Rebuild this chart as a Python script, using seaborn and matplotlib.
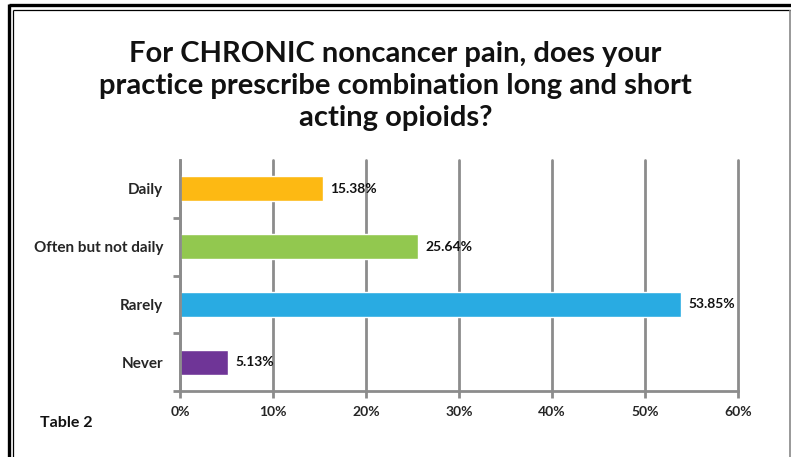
import matplotlib
matplotlib.use("Agg")
import matplotlib.pyplot as plt
from matplotlib.lines import Line2D
import seaborn as sns
import pandas as pd

# Survey responses
categories = ["Daily", "Often but not daily", "Rarely", "Never"]
percentages = [15.38, 25.64, 53.85, 5.13]
bar_colors = ["#FDB913", "#92C84F", "#29ABE2", "#6F3597"]
x_ticks = [0, 10, 20, 30, 40, 50, 60]
title_text = ("For CHRONIC noncancer pain, does your\n"
              "practice prescribe combination long and short\n"
              "acting opioids?")
footnote = "Table 2"

sns.set_theme(style="white")
plt.rcParams["font.family"] = ["Lato", "DejaVu Sans"]

df = pd.DataFrame({"category": categories, "pct": percentages})

W, H = 791, 457
fig = plt.figure(figsize=(W / 100, H / 100), dpi=100)
ax = fig.add_axes([180 / W, 1 - 391 / H, (738 - 180) / W, (391 - 160) / H])

sns.barplot(data=df, y="category", x="pct", hue="category",
            palette=bar_colors, order=categories, hue_order=categories,
            orient="h", width=0.43, legend=False, ax=ax, saturation=1)

ax.set_xlim(0, 60)
ax.set_ylim(3.5, -0.5)
ax.set_xticks(x_ticks)
ax.set_xticklabels([f"{t}%" for t in x_ticks], fontsize=10, fontweight="bold")
ax.set_yticks(range(len(categories)))
ax.set_yticklabels(categories, fontsize=11, fontweight="bold")
ax.set_xlabel("")
ax.set_ylabel("")

grid_col = "#8c8c8c"
ax.xaxis.grid(True, color=grid_col, linewidth=2)
for gl in ax.get_xgridlines():
    gl.set_clip_on(False)
ax.set_axisbelow(True)
for side in ["top", "right"]:
    ax.spines[side].set_visible(False)
for side in ["left", "bottom"]:
    ax.spines[side].set_color(grid_col)
    ax.spines[side].set_linewidth(2)

ax.tick_params(axis="x", which="major", length=5, width=2, color=grid_col,
               pad=6, bottom=True)
ax.tick_params(axis="y", which="major", length=0, pad=12)
ax.set_yticks([0.5, 1.5, 2.5, 3.5], minor=True)
ax.tick_params(axis="y", which="minor", length=5, width=2, color=grid_col, left=True)

for i, v in enumerate(percentages):
    ax.text(v + 0.8, i, f"{v:.2f}%", va="center", ha="left",
            fontsize=10, fontweight="bold", color="#111111")

fig.text(0.5, 1 - 86 / H, title_text, ha="center", va="center",
         fontsize=21, fontweight="bold", linespacing=1.3, color="#111111")
fig.text(40 / W, 1 - 423 / H, footnote, ha="left", va="center",
         fontsize=11.5, fontweight="bold", color="#111111")

# Page frame: heavy outer rule with a thin inner rule
def fline(x0, y0, x1, y1, lw, color):
    fig.add_artist(Line2D([x0 / W, x1 / W], [1 - y0 / H, 1 - y1 / H],
                          transform=fig.transFigure, lw=lw, color=color,
                          solid_capstyle="butt"))

fline(9, 5, W, 5, 2.4, "black")
fline(9, 4, 9, H, 2.4, "black")
fline(13, 10, W, 10, 0.9, "black")
fline(13, 10, 13, H, 0.9, "black")
fline(789.5, 10, 789.5, H, 1.2, "#888888")

fig.savefig("out.png", dpi=100, facecolor="white")
